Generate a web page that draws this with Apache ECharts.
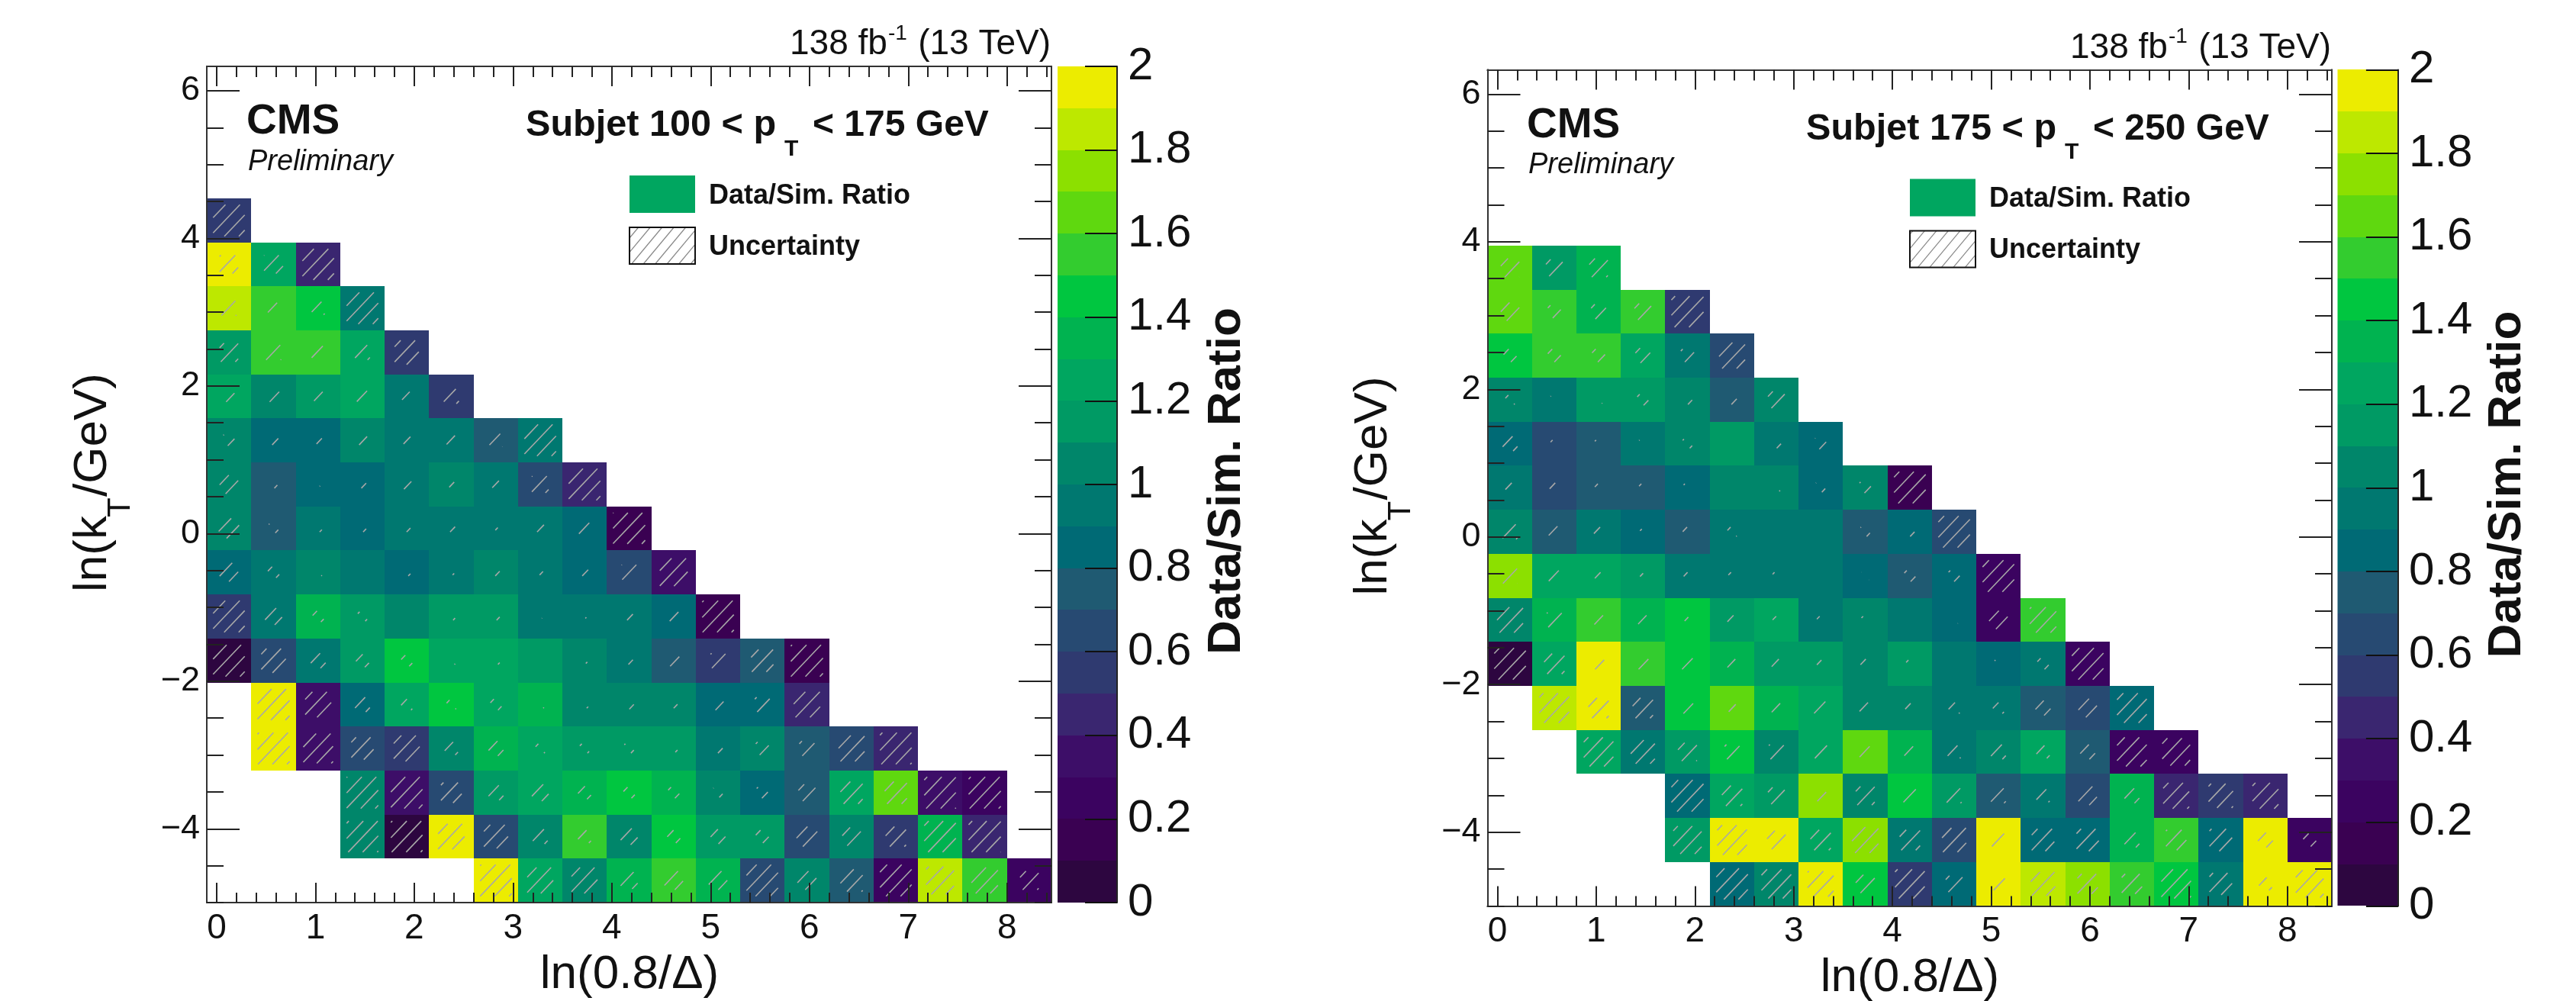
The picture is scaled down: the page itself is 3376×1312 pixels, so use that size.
<!DOCTYPE html>
<html><head><meta charset="utf-8">
<script src="https://cdn.jsdelivr.net/npm/echarts@6/dist/echarts.min.js"></script>
<style>html,body{margin:0;padding:0;background:#fff}#c{width:3376px;height:1312px}</style>
</head><body><div id="c"></div>
<script>
const _ = null;
const xBinStart = -0.1, xBinWidth = 0.45;
const yBinStart = -5, yBinHeight = 0.5964;
const xRange = [-0.1, 8.45], yRange = [-5, 6.33], zRange = [0, 2];
const xMajor = [0,1,2,3,4,5,6,7,8];
const xMinor = [0.2,0.4,0.6,0.8,1.2,1.4,1.6,1.8,2.2,2.4,2.6,2.8,3.2,3.4,3.6,3.8,4.2,4.4,4.6,4.8,5.2,5.4,5.6,5.8,6.2,6.4,6.6,6.8,7.2,7.4,7.6,7.8,8.2,8.4];
const yMajor = [-4,-2,0,2,4,6];
const yMinor = [-5,-4.5,-3.5,-3,-2.5,-1.5,-1,-0.5,0.5,1,1.5,2.5,3,3.5,4.5,5,5.5];
const bandEdges = [0,0.1,0.2,0.3,0.4,0.5,0.6,0.7,0.8,0.9,1,1.1,1.2,1.3,1.4,1.5,1.6,1.7,1.8,1.9];
const bandColors = ['#2d0640','#3a0152','#3b0360','#3d0e68','#3a2670','#2f3a70','#274a72','#1f5a72','#006a75','#007870','#00866a','#009a64','#00a660','#00b350','#00c640','#33cc2f','#5fd80f','#8ce000','#bde800','#ecec00'];

// rows listed from the top bin (y about 4.2) down to the bottom bin (y about -4.7)
const leftRatio = [
 [.55],
 [1.95,1.25,.45],
 [1.85,1.55,1.45,.95],
 [1.15,1.55,1.55,1.25,.55],
 [1.25,1.05,1.15,1.25,.95,.55],
 [1.05,.85,.85,1.05,.95,.95,.75,.95],
 [1.05,.75,.85,.85,.95,1.05,.95,.65,.45],
 [1.05,.75,.95,.85,.95,.95,.95,.95,.85,.15],
 [.85,.95,1.05,.95,.85,.95,1.05,.95,.85,.65,.35],
 [.55,.95,1.35,1.15,1.05,1.15,1.15,.95,.95,.95,.85,.15],
 [.05,.65,.95,1.15,1.45,1.25,1.25,1.15,1.05,.95,.75,.55,.75,.15],
 [_,1.95,.35,.85,1.25,1.45,1.25,1.35,1.05,1.05,1.05,.85,.85,.45],
 [_,1.95,.35,.65,.55,1.05,1.35,1.25,1.15,1.15,1.15,.95,1.05,.75,.65,.45],
 [_,_,_,1.05,.35,.65,1.15,1.25,1.35,1.45,1.35,1.05,.85,.75,1.25,1.65,.35,.25],
 [_,_,_,1.05,.05,1.95,.65,1.05,1.55,1.05,1.45,1.15,1.15,.65,1.05,.55,1.35,.45],
 [_,_,_,_,_,_,1.95,1.25,1.05,1.35,1.55,1.35,.65,1.05,.75,.25,1.85,1.55,.25]
];
const leftUnc = [
 [.85],
 [.5,.5,.85],
 [.4,.3,.35,.85],
 [.5,.4,.35,.4,.65],
 [.3,.3,.25,.3,.25,.4],
 [.3,.25,.2,.25,.2,.25,.35,.85],
 [.5,.2,.1,.2,.25,.15,.2,.45,.85],
 [.55,.25,.2,.2,.2,.2,.1,.2,.3,.85],
 [.5,.3,.2,.15,.2,.15,.2,.15,.2,.4,.75],
 [.85,.45,.3,.25,.15,.2,.2,.1,.1,.2,.25,.85],
 [.85,.65,.4,.35,.3,.2,.2,.1,.15,.2,.3,.4,.6,.85],
 [_,.85,.7,.4,.3,.25,.3,.2,.2,.25,.2,.3,.4,.7],
 [_,.85,.8,.6,.7,.35,.4,.25,.25,.25,.2,.25,.35,.4,.7,.85],
 [_,_,_,.85,.85,.55,.4,.45,.35,.3,.3,.25,.3,.45,.6,.6,.85,.85],
 [_,_,_,.85,.85,.7,.65,.4,.35,.45,.35,.4,.35,.55,.5,.55,.85,.85],
 [_,_,_,_,_,_,.85,.7,.7,.45,.5,.5,.85,.5,.6,.85,.75,.7,.5]
];
const rightRatio = [
 [],
 [1.65,1.15,1.35],
 [1.65,1.55,1.35,1.55,.55],
 [1.45,1.55,1.55,1.25,.95,.65],
 [1.05,.95,1.15,1.15,1.05,.75,1.05],
 [.85,.65,.75,.95,1.05,1.15,.95,.85],
 [.95,.65,.75,.75,.85,1.05,1.05,.85,1.05,.15],
 [1.05,.75,.95,.85,.75,.95,.95,.95,.75,.85,.65],
 [1.75,1.25,1.25,1.15,.95,.95,.95,.95,.85,.75,.85,.25],
 [1.05,1.35,1.55,1.35,1.45,1.15,1.25,.95,1.05,.95,.85,.25,1.55],
 [.05,1.25,1.95,1.55,1.45,1.35,1.15,1.15,1.05,1.15,.95,.85,.95,.25],
 [_,1.85,1.95,.75,1.45,1.65,1.35,1.25,1.05,1.05,.95,.95,.75,.65,.85],
 [_,_,1.25,.95,1.15,1.45,1.05,1.25,1.65,1.35,.95,1.05,1.25,.75,.25,.25],
 [_,_,_,_,.85,1.25,1.15,1.75,1.05,1.45,1.15,.75,.95,.65,1.35,.45,.55,.45],
 [_,_,_,_,1.15,1.95,1.95,1.25,1.75,.95,.65,1.95,.85,.85,1.35,1.55,.85,1.95,.25],
 [_,_,_,_,_,.85,1.05,1.95,1.45,.55,.85,1.95,1.85,1.75,1.55,1.45,.95,1.95,1.95]
];
const rightUnc = [
 [],
 [.5,.45,.5],
 [.5,.35,.4,.45,.85],
 [.35,.35,.35,.4,.35,.7],
 [.25,.2,.2,.3,.25,.25,.45],
 [.4,.2,.2,.2,.25,.15,.25,.3],
 [.25,.25,.2,.2,.2,.15,.2,.25,.3,.85],
 [.4,.3,.25,.15,.25,.25,.15,.15,.25,.25,.85],
 [.4,.3,.2,.15,.2,.2,.2,.15,.2,.3,.3,.85],
 [.7,.4,.25,.25,.15,.25,.2,.2,.2,.15,.2,.5,.7],
 [.85,.55,.3,.3,.3,.25,.25,.2,.25,.2,.15,.2,.3,.85],
 [_,.8,.55,.55,.3,.2,.25,.35,.3,.25,.3,.3,.4,.5,.8],
 [_,_,.8,.65,.5,.4,.4,.35,.3,.3,.35,.4,.35,.4,.8,.75],
 [_,_,_,_,.85,.55,.45,.3,.5,.35,.4,.4,.35,.5,.4,.7,.65,.7],
 [_,_,_,_,.75,.8,.5,.55,.7,.55,.65,.35,.6,.6,.4,.55,.6,.4,.35],
 [_,_,_,_,_,.85,.8,.7,.5,.8,.45,.35,.65,.55,.55,.8,.6,.35,.75]
];
const panelTitles = [['Subjet 100 < p','< 175 GeV'],['Subjet 175 < p','< 250 GeV']];

const FONT = '"Liberation Sans"';
const panels = [
 {left:271, top:87, w:1107, h:1096, barLeft:1386, barW:78, dx:0, dy:0},
 {left:1949.5, top:91.4, w:1106.5, h:1096, barLeft:3063.5, barW:79.4, dx:1678, dy:4.4}
];

function colorOf(v){ return bandColors[Math.min(19, Math.floor(v*10+1e-6))]; }

function hatch(bx0,by0,bx1,by1,sp,m){
  const out=[];
  const tMin=bx0+by0/m, tMax=bx1+by1/m;
  for(let k=Math.ceil(tMin/sp);k*sp<=tMax;k++){
    const t=k*sp;
    const xa=Math.max(bx0,t-by1/m), xb=Math.min(bx1,t-by0/m);
    if(xa<xb) out.push([xa,m*(t-xa),xb,m*(t-xb)]);
  }
  return out;
}

function cellData(ratio,unc){
  const d=[];
  ratio.forEach((row,i)=>{
    const rowIdx=ratio.length-1-i;
    row.forEach((v,j)=>{
      if(v===null) return;
      d.push([xBinStart+xBinWidth*(j+0.5), yBinStart+yBinHeight*(rowIdx+0.5), v, unc[i][j]]);
    });
  });
  return d;
}

function renderCell(params,api){
  const xc=api.value(0), yc=api.value(1), v=api.value(2), u=api.value(3);
  const p0=api.coord([xc-xBinWidth/2,yc+yBinHeight/2]);
  const p1=api.coord([xc+xBinWidth/2,yc-yBinHeight/2]);
  const x0=Math.round(p0[0]),y0=Math.round(p0[1]),x1=Math.round(p1[0]),y1=Math.round(p1[1]);
  const kids=[{type:'rect',shape:{x:x0,y:y0,width:x1-x0,height:y1-y0},style:{fill:colorOf(v)}}];
  const cx=(x0+x1)/2,cy=(y0+y1)/2,hw=(x1-x0)*u*0.42,hh=(y1-y0)*u*0.42;
  hatch(cx-hw,cy-hh,cx+hw,cy+hh,19,1.05).forEach(s=>{
    kids.push({type:'line',shape:{x1:s[0],y1:s[1],x2:s[2],y2:s[3]},style:{stroke:'#a8a8a8',lineWidth:1.6}});
  });
  return {type:'group',children:kids};
}

function renderBand(params,api){
  const lo=api.value(1);
  const p0=api.coord([0,lo+0.1]), p1=api.coord([1,lo]);
  const y0=Math.round(p0[1]),y1=Math.round(p1[1]);
  return {type:'rect',shape:{x:p0[0],y:y0,width:p1[0]-p0[0],height:y1-y0},style:{fill:colorOf(lo+0.05)}};
}

const grid=[],xAxis=[],yAxis=[],series=[],graphic=[];
const minus=v=>String(v).replace('-','\u2212');
function xA(gi,pos,vals,len,labels){
  return {type:'value',gridIndex:gi,position:pos,min:xRange[0],max:xRange[1],z:10,
    axisLine:{show:true,onZero:false,lineStyle:{color:'#333',width:2}},
    splitLine:{show:false},
    axisTick:{show:true,inside:true,length:len,customValues:vals,lineStyle:{color:'#222',width:2}},
    axisLabel:labels?{show:true,customValues:vals,fontFamily:FONT,fontSize:46,color:'#111',margin:11,formatter:minus}:{show:false}};
}
function yA(gi,pos,vals,len,labels){
  return {type:'value',gridIndex:gi,position:pos,min:yRange[0],max:yRange[1],z:10,
    axisLine:{show:true,onZero:false,lineStyle:{color:'#333',width:2}},
    splitLine:{show:false},
    axisTick:{show:true,inside:true,length:len,customValues:vals,lineStyle:{color:'#222',width:2}},
    axisLabel:labels?{show:true,customValues:vals,fontFamily:FONT,fontSize:45,color:'#111',margin:9,formatter:minus}:{show:false}};
}
function txt(text,x,y,size,opt){
  opt=opt||{};
  const rot=opt.rot?Math.PI/2:0;
  const off=size*0.31;
  graphic.push({type:'text',silent:true,z:30,x:opt.rot?x-off:x,y:opt.rot?y:y-off,rotation:rot,
    style:{text:text,fill:'#111',font:(opt.style||'')+' '+size+'px '+FONT,textAlign:opt.align||'left',textVerticalAlign:'middle',verticalAlign:'middle'}});
}

panels.forEach((p,i)=>{
  const g=grid.length;
  grid.push({left:p.left,top:p.top,width:p.w,height:p.h,containLabel:false});
  grid.push({left:p.barLeft,top:p.top,width:p.barW,height:p.h,containLabel:false});
  const xBase=xAxis.length,yBase=yAxis.length;
  xAxis.push(xA(g,'bottom',xMajor,26,true),xA(g,'bottom',xMinor,13,false),xA(g,'top',xMajor,26,false),xA(g,'top',xMinor,14,false));
  yAxis.push(yA(g,'left',yMajor,43,true),yA(g,'left',yMinor,22,false),yA(g,'right',yMajor,43,false),yA(g,'right',yMinor,22,false));
  series.push({type:'custom',coordinateSystem:'cartesian2d',xAxisIndex:xBase,yAxisIndex:yBase,z:2,clip:true,silent:true,
    renderItem:renderCell,data:cellData(i?rightRatio:leftRatio,i?rightUnc:leftUnc),dimensions:['x','y','ratio','unc'],encode:{x:0,y:1}});
  // colour bar with its own value axis
  const xb=xAxis.length,yb=yAxis.length;
  xAxis.push({type:'value',gridIndex:g+1,min:0,max:1,show:false});
  yAxis.push({type:'value',gridIndex:g+1,position:'right',min:zRange[0],max:zRange[1],interval:0.2,z:10,
    axisLine:{show:true,onZero:false,lineStyle:{color:'#222',width:2}},splitLine:{show:false},
    axisTick:{show:true,inside:true,length:42,lineStyle:{color:'#111',width:2}},
    axisLabel:{show:true,fontFamily:FONT,fontSize:60,color:'#111',margin:14,formatter:v=>String(+v.toFixed(1))}});
  series.push({type:'custom',coordinateSystem:'cartesian2d',xAxisIndex:xb,yAxisIndex:yb,z:2,silent:true,
    renderItem:renderBand,data:bandEdges.map(e=>[0.5,e]),encode:{x:0,y:1}});

  const dx=p.dx,dy=p.dy;
  // texts
  txt('138 fb',1035+dx,73+dy,46);
  txt('-1',1164+dx,53+dy,28);
  txt('(13 TeV)',1377+dx,73+dy,46,{align:'right'});
  txt('CMS',323+dx,177+dy,55,{style:'bold'});
  txt('Preliminary',325+dx,224+dy,38,{style:'italic'});
  txt(panelTitles[i][0],689+dx,180+dy,48.6,{style:'bold'});
  txt('T',1028+dx,205+dy,30,{style:'bold'});
  txt(panelTitles[i][1],1065+dx,180+dy,48,{style:'bold'});
  txt('Data/Sim. Ratio',929+dx,268+dy,36,{style:'bold'});
  txt('Uncertainty',929+dx,335+dy,36,{style:'bold'});
  txt('ln(0.8/\u0394)',825+dx,1297+dy,62,{align:'center'});
  txt('ln(k',140.7+dx,776+dy,62,{rot:true});
  txt('T',171.7+dx,678+dy,42,{rot:true});
  txt('/GeV)',140.7+dx,651+dy,62,{rot:true});
  txt('Data/Sim. Ratio',1627+dx,858+dy,62,{rot:true,style:'bold'});
  // legend keys
  graphic.push({type:'rect',silent:true,z:30,shape:{x:825+dx,y:230+dy,width:86,height:49},style:{fill:bandColors[12]}});
  const bx=825+dx,by=298+dy,bw=86,bh=48;
  hatch(bx,by,bx+bw,by+bh,15.5,1.2).forEach(s=>{
    graphic.push({type:'line',silent:true,z:30,shape:{x1:s[0],y1:s[1],x2:s[2],y2:s[3]},style:{stroke:'#888',lineWidth:1.2}});
  });
  graphic.push({type:'rect',silent:true,z:31,shape:{x:bx,y:by,width:bw,height:bh},style:{fill:'none',stroke:'#111',lineWidth:2}});
});

const chart=echarts.init(document.getElementById('c'),null,{renderer:'canvas'});
chart.setOption({animation:false,backgroundColor:'#fff',grid,xAxis,yAxis,series,graphic:{elements:graphic}});
</script></body></html>
